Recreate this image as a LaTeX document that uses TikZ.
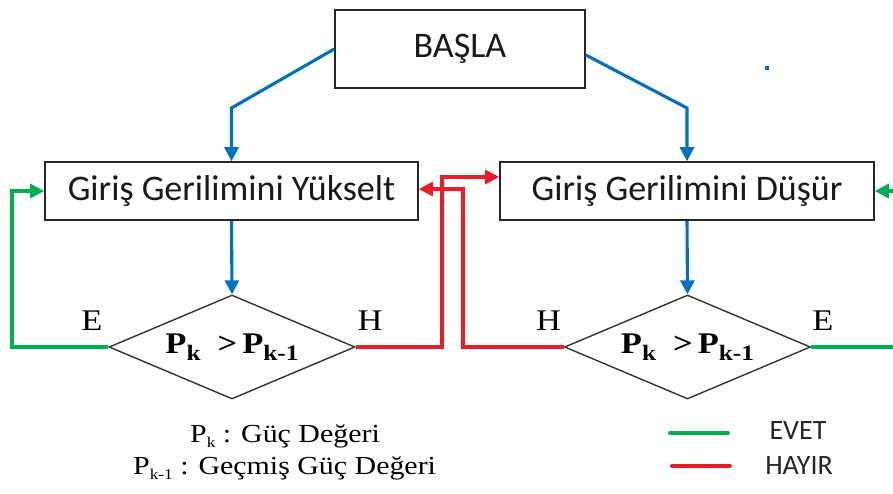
\documentclass[tikz,border=0pt]{standalone}
\usepackage{fontspec}
\setmainfont{Liberation Serif}[FakeStretch=1.15]
\newfontfamily\boxfont{Carlito}
\usetikzlibrary{arrows.meta,shapes.geometric}
\definecolor{fblue}{RGB}{0,112,192}
\definecolor{fgreen}{RGB}{0,176,80}
\definecolor{fred}{RGB}{237,28,36}
\newcommand{\subk}[1]{\raisebox{-7pt}{\fontsize{22}{22}\selectfont #1}}
\newcommand{\subl}[1]{\raisebox{-5pt}{\fontsize{15}{15}\selectfont #1}}
\begin{document}
\begin{tikzpicture}[x=1pt,y=-1pt,
  procbox/.style={draw=black!85,line width=1.6pt,minimum height=58pt,inner sep=0pt,
     font=\boxfont\fontsize{36}{40}\selectfont,text=black!90},
  decbox/.style={diamond,aspect=2.36,draw=black!80,line width=1.4pt,minimum width=246pt,
     minimum height=104pt,inner sep=0pt,font=\bfseries\fontsize{30}{32}\selectfont},
  flowline/.style={line width=3.1pt,-{Triangle[length=14pt,width=14pt]}},
  yesline/.style={flowline,fgreen},
  noline/.style={flowline,fred},
  bluline/.style={flowline,fblue},
  lbl/.style={font=\fontsize{30}{32}\selectfont,inner sep=0pt},
  legtext/.style={font=\boxfont\fontsize{28}{30}\selectfont,text=black!85,inner sep=0pt}
]
\useasboundingbox (0,0) rectangle (893,493);

\node[procbox,minimum width=250pt,minimum height=78pt] (start) at (460,49) {BAŞLA};
\node[procbox,minimum width=373pt] (up) at (231.5,191) {Giriş Gerilimini Yükselt};
\node[procbox,minimum width=374pt] (down) at (687,191) {Giriş Gerilimini Düşür};

\node[decbox] (d1) at (232,347) {P\subk{k}\hspace{17pt}>\hspace{5pt}P\subk{k-1}};
\node[decbox] (d2) at (687.5,347) {P\subk{k}\hspace{17pt}>\hspace{5pt}P\subk{k-1}};

% blue flow
\draw[bluline] (start.west) -- (up.north |- 0,108) -- (up.north);
\draw[bluline] ([yshift=-6pt]start.east) -- (down.north |- 0,108) -- (down.north);
\draw[bluline] (up.south) -- (d1.north);
\draw[bluline] (down.south) -- (d2.north);

% green (yes)
\coordinate (gl) at (12,191);
\coordinate (gr) at (905,191);
\draw[yesline] (d1.west) -| (gl) -- (up.west);
\draw[yesline] (d2.east) -| (gr) -- (down.east);

% red (no)
\coordinate (r1) at (442,177);
\coordinate (r2) at (463,189);
\draw[noline] (d1.east) -| (r1) -- (r1 -| down.west);
\draw[noline] (d2.west) -| (r2) -- (r2 -| up.east);

% labels
\node[lbl] (e1) at (92,321) {E};
\node[lbl] (h1) at (370,321) {H};
\node[lbl] (h2) at (548.5,321) {H};
\node[lbl] (e2) at (823,321) {E};

% definitions
\node[anchor=base west,inner sep=0pt,font=\fontsize{26}{28}\selectfont] (def1) at (190,442) {P\subl{k} : Güç Değeri};
\node[anchor=base west,inner sep=0pt,font=\fontsize{26}{28}\selectfont] (def2) at (133,474) {P\subl{k-1} : Geçmiş Güç Değeri};

% legend
\coordinate (lg1) at (670,433);
\coordinate (lg2) at (728,433);
\coordinate (lr1) at (672,466);
\coordinate (lr2) at (730,466);
\draw[fgreen,line width=4pt,line cap=round] (lg1) -- (lg2);
\draw[fred,line width=4pt,line cap=round] (lr1) -- (lr2);
\node[legtext] (evet) at (798,431) {EVET};
\node[legtext] (hayir) at (799,466) {HAYIR};

% stray dot
\fill[fblue] (765,66) rectangle (769,70);
\end{tikzpicture}
\end{document}
